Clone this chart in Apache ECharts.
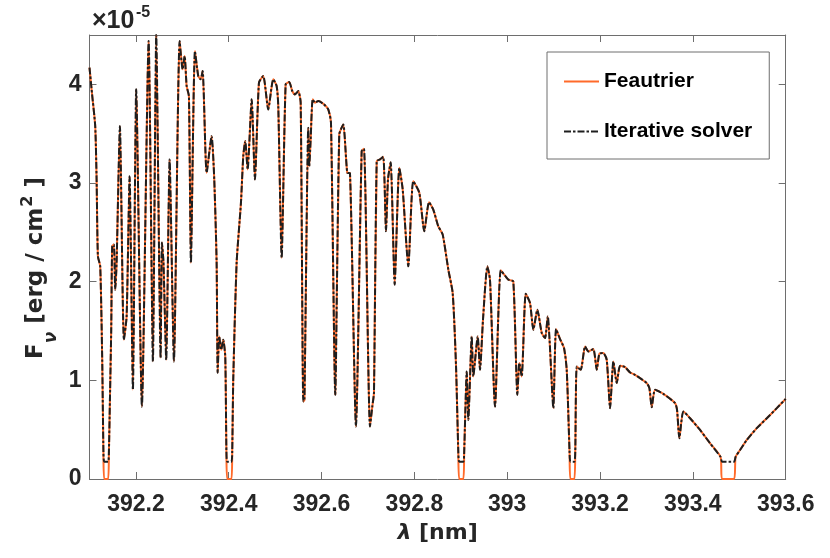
<!DOCTYPE html>
<html><head><meta charset="utf-8">
<script src="https://cdn.jsdelivr.net/npm/echarts@6/dist/echarts.min.js"></script>
<style>html,body{margin:0;padding:0;background:#fff}#c{width:830px;height:558px}</style>
</head><body><div id="c"></div>
<script>
// wavelength in nm
const wavelength = [
392.1000,392.1052,392.1123,392.1153,392.1181,392.1231,392.1274,392.1300,392.1317,392.1401,
392.1418,392.1440,392.1468,392.1489,392.1526,392.1554,392.1584,392.1655,392.1741,392.1800,
392.1864,392.1935,392.2006,392.2129,392.2274,392.2366,392.2438,392.2532,392.2560,392.2593,
392.2653,392.2726,392.2819,392.2942,392.3006,392.3050,392.3093,392.3142,392.3185,392.3272,
392.3343,392.3394,392.3438,392.3524,392.3631,392.3688,392.3739,392.3761,392.3795,392.3838,
392.3881,392.3925,392.3950,392.3968,392.4058,392.4075,392.4097,392.4170,392.4263,392.4313,
392.4356,392.4407,392.4494,392.4565,392.4651,392.4744,392.4851,392.4959,392.5032,392.5067,
392.5140,392.5226,392.5304,392.5368,392.5427,392.5498,392.5550,392.5606,392.5631,392.5713,
392.5735,392.5765,392.5808,392.5858,392.5929,392.6052,392.6144,392.6203,392.6295,392.6381,
392.6468,392.6554,392.6612,392.6741,392.6864,392.6914,392.7043,392.7093,392.7129,392.7188,
392.7259,392.7330,392.7388,392.7431,392.7489,392.7575,392.7675,392.7748,392.7869,392.7976,
392.8106,392.8213,392.8315,392.8407,392.8515,392.8610,392.8731,392.8825,392.8897,392.8946,
392.8966,392.9054,392.9073,392.9127,392.9162,392.9235,392.9269,392.9364,392.9414,392.9478,
392.9571,392.9629,392.9737,392.9860,392.9953,393.0024,393.0131,393.0218,393.0261,393.0313,
393.0399,393.0491,393.0563,393.0649,393.0744,393.0815,393.0873,393.0994,393.1052,393.1138,
393.1224,393.1282,393.1343,393.1360,393.1446,393.1466,393.1498,393.1584,393.1677,393.1748,
393.1856,393.1929,393.1985,393.2071,393.2144,393.2216,393.2287,393.2360,393.2431,393.2539,
393.2647,393.2754,393.2862,393.3006,393.3063,393.3114,393.3185,393.3364,393.3616,393.3659,
393.3709,393.3795,393.3940,393.4155,393.4371,393.4597,393.4629,393.4888,393.4920,393.5017,
393.5162,393.5377,393.5593,393.5808,393.6000
];
// flux, units of 1e-5 erg/cm^2
const iterativeFlux = [
4.170,3.916,3.577,3.036,2.257,2.155,1.208,0.274,0.176,0.176,
0.274,0.802,1.513,2.358,2.376,1.919,2.193,3.577,1.411,1.648,
3.069,0.904,3.949,0.734,4.440,1.191,4.500,1.228,2.396,2.203,
1.208,3.239,1.191,4.440,4.152,4.287,3.983,3.881,2.190,4.338,
4.084,4.051,4.135,3.104,3.475,3.036,2.193,1.076,1.445,1.310,
1.411,1.242,0.274,0.176,0.176,0.274,1.005,2.193,2.799,3.272,
3.424,3.137,3.848,3.036,4.017,4.084,3.746,4.051,3.983,3.780,
2.241,4.000,4.023,3.932,3.898,3.932,3.814,0.785,0.802,3.560,
3.171,3.442,3.848,3.814,3.830,3.797,3.746,3.611,0.853,3.492,
3.594,3.104,3.100,0.531,3.323,3.347,0.531,0.734,0.873,3.221,
3.239,3.266,2.511,3.036,3.211,1.970,3.154,2.934,2.155,3.018,
2.901,2.511,2.805,2.731,2.561,2.477,2.122,1.885,1.145,0.274,
0.176,0.176,0.274,1.089,0.599,1.445,1.039,1.445,1.107,1.614,
2.155,2.020,0.734,2.115,2.061,2.020,2.003,0.853,1.175,1.039,
1.878,1.784,1.513,1.716,1.479,1.428,1.648,0.718,1.520,1.418,
1.327,1.107,0.274,0.176,0.176,0.274,1.140,1.107,1.343,1.292,
1.317,1.107,1.269,1.276,1.208,0.718,1.191,0.972,1.147,1.134,
1.079,1.056,1.022,0.972,0.921,0.728,0.904,0.863,0.769,0.701,
0.413,0.683,0.616,0.497,0.362,0.223,0.176,0.176,0.223,0.294,
0.396,0.515,0.616,0.718,0.812
];
const feautrierFlux = [
4.170,3.916,3.577,3.036,2.257,2.155,1.208,0.274,0.000,0.000,
0.274,0.802,1.513,2.358,2.376,1.919,2.193,3.577,1.411,1.648,
3.069,0.904,3.949,0.734,4.440,1.191,4.500,1.228,2.396,2.203,
1.208,3.239,1.191,4.440,4.152,4.287,3.983,3.881,2.190,4.338,
4.084,4.051,4.135,3.104,3.475,3.036,2.193,1.076,1.445,1.310,
1.411,1.242,0.274,0.000,0.000,0.274,1.005,2.193,2.799,3.272,
3.424,3.137,3.848,3.036,4.017,4.084,3.746,4.051,3.983,3.780,
2.241,4.000,4.023,3.932,3.898,3.932,3.814,0.785,0.802,3.560,
3.171,3.442,3.848,3.814,3.830,3.797,3.746,3.611,0.853,3.492,
3.594,3.104,3.100,0.531,3.323,3.347,0.531,0.734,0.873,3.221,
3.239,3.266,2.511,3.036,3.211,1.970,3.154,2.934,2.155,3.018,
2.901,2.511,2.805,2.731,2.561,2.477,2.122,1.885,1.145,0.274,
0.000,0.000,0.274,1.089,0.599,1.445,1.039,1.445,1.107,1.614,
2.155,2.020,0.734,2.115,2.061,2.020,2.003,0.853,1.175,1.039,
1.878,1.784,1.513,1.716,1.479,1.428,1.648,0.718,1.520,1.418,
1.327,1.107,0.274,0.000,0.000,0.274,1.140,1.107,1.343,1.292,
1.317,1.107,1.269,1.276,1.208,0.718,1.191,0.972,1.147,1.134,
1.079,1.056,1.022,0.972,0.921,0.728,0.904,0.863,0.769,0.701,
0.413,0.683,0.616,0.497,0.362,0.223,0.000,0.000,0.223,0.294,
0.396,0.515,0.616,0.718,0.812
];
const xTicks = [392.2, 392.4, 392.6, 392.8, 393, 393.2, 393.4, 393.6];
const yTicks = [0, 1, 2, 3, 4];
const seriesNames = ['Feautrier', 'Iterative solver'];

const font = "'Liberation Sans', Arial, Helvetica, sans-serif";
const texFont = "'DejaVu Sans', sans-serif";
const axisColor = '#262626';
const boxColor = '#6e6e6e';
const chart = echarts.init(document.getElementById('c'), null, {renderer: 'canvas'});

function xAxisDef(pos, showLabels, withName) {
  const a = {
    type: 'value', position: pos, min: 392.1, max: 393.6, interval: 0.1,
    axisLine: {show: true, onZero: false, lineStyle: {color: boxColor, width: 1}},
    axisTick: {show: true, inside: true, length: 7, customValues: xTicks, lineStyle: {color: boxColor}},
    axisLabel: {show: showLabels, customValues: xTicks, fontSize: 23, fontWeight: 'bold', color: axisColor, margin: 14, fontFamily: font},
    splitLine: {show: false}
  };
  if (withName) {
    a.name = '{i|λ}{m| [nm]}';
    a.nameLocation = 'middle';
    a.nameGap = 43;
    a.nameTextStyle = {fontSize: 22, fontWeight: 'bold', color: axisColor, fontFamily: texFont,
      rich: {
        i: {fontStyle: 'italic', fontSize: 22, fontWeight: 'bold', color: axisColor, fontFamily: texFont},
        m: {fontSize: 22, fontWeight: 'bold', color: axisColor, fontFamily: texFont}
      }};
  }
  return a;
}
function yAxisDef(pos, showLabels, withName) {
  const a = {
    type: 'value', position: pos, min: 0, max: 4.5, interval: 1,
    axisLine: {show: true, onZero: false, lineStyle: {color: boxColor, width: 1}},
    axisTick: {show: true, inside: true, length: 7, customValues: yTicks, lineStyle: {color: boxColor}},
    axisLabel: {show: showLabels, customValues: yTicks, fontSize: 23, fontWeight: 'bold', color: axisColor, margin: 8, fontFamily: font},
    splitLine: {show: false}
  };
  if (withName) {
    a.name = '{m|F}{sub|ν}{m| [erg / cm}{sup|2}{m| ]}';
    a.nameLocation = 'middle';
    a.nameRotate = 90;
    a.nameGap = 23;
    a.nameMoveOverlap = false;
    a.nameTextStyle = {fontSize: 23, fontWeight: 'bold', color: axisColor, fontFamily: texFont, padding: [0, 22, 0, 0],
      rich: {
        m: {fontSize: 23, fontWeight: 'bold', color: axisColor, fontFamily: texFont, verticalAlign: 'middle', lineHeight: 60},
        sub: {fontSize: 17, fontStyle: 'italic', fontWeight: 'bold', color: axisColor, fontFamily: texFont, verticalAlign: 'middle', lineHeight: 16, padding: [30, 0, 0, 0]},
        sup: {fontSize: 16, fontWeight: 'bold', color: axisColor, fontFamily: texFont, verticalAlign: 'middle', lineHeight: 16, padding: [0, 0, 17, 1]}
      }};
  }
  return a;
}

chart.setOption({
  animation: false,
  backgroundColor: '#fff',
  graphic: {
    elements: [
      {type: 'text', x: 92, y: 21.5, silent: true,
       style: {text: '×10', fontSize: 25, fontWeight: 'bold', fontFamily: font, fill: axisColor,
               align: 'left', verticalAlign: 'middle', textAlign: 'left', textVerticalAlign: 'middle'}},
      {type: 'text', x: 136, y: 12.5, silent: true,
       style: {text: '-5', fontSize: 16, fontWeight: 'bold', fontFamily: font, fill: axisColor,
               align: 'left', verticalAlign: 'middle', textAlign: 'left', textVerticalAlign: 'middle'}}
    ]
  },
  grid: {left: 89.5, right: 44.3, top: 35, bottom: 79, containLabel: false, outerBoundsMode: 'none'},
  xAxis: [xAxisDef('bottom', true, true), xAxisDef('top', false, false)],
  yAxis: [yAxisDef('left', true, true), yAxisDef('right', false, false)],
  legend: {
    orient: 'vertical', left: 547, top: 52,
    padding: [19, 17, 17, 16], itemGap: 29, itemWidth: 35, itemHeight: 14,
    backgroundColor: '#fff', borderColor: boxColor, borderWidth: 1, borderRadius: 0,
    itemStyle: {opacity: 0},
    textStyle: {fontSize: 21, fontWeight: 'bold', color: '#000', fontFamily: font},
    data: seriesNames
  },
  series: [
    {name: seriesNames[0], type: 'line', xAxisIndex: 0, yAxisIndex: 0,
     data: wavelength.map((w, i) => [w, feautrierFlux[i]]),
     symbol: 'none', showSymbol: false, z: 2, smooth: 0.2,
     lineStyle: {color: '#ff6a2a', width: 2}, itemStyle: {color: '#ff6a2a'}},
    {name: seriesNames[1], type: 'line', xAxisIndex: 0, yAxisIndex: 0,
     data: wavelength.map((w, i) => [w, iterativeFlux[i]]),
     symbol: 'none', showSymbol: false, z: 3, smooth: 0.2,
     lineStyle: {color: '#1e1e1e', width: 2, type: [7, 2, 2.5, 2]}, itemStyle: {color: '#1e1e1e'}}
  ]
});
</script>
</body></html>
